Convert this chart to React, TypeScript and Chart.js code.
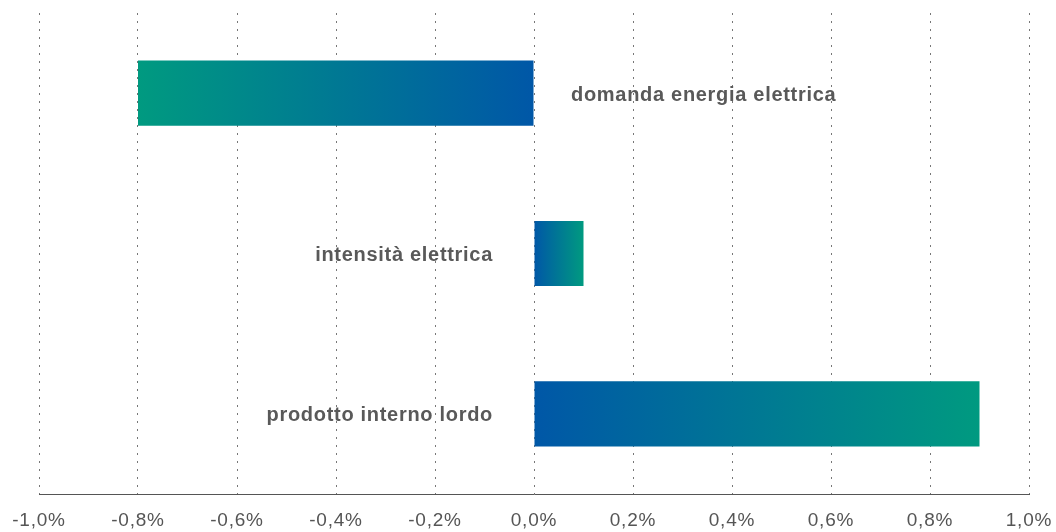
import React, { useEffect, useRef } from "react";
import { Chart, registerables } from "chart.js";

Chart.register(...registerables);

const categories = ["domanda energia elettrica", "intensità elettrica", "prodotto interno lordo"];
const values = [-0.8, 0.1, 0.9];
const tickValues = [-1.0, -0.8, -0.6, -0.4, -0.2, 0.0, 0.2, 0.4, 0.6, 0.8, 1.0];

const BLUE = "#0057a7";
const GREEN = "#009a80";
const FONT = "'Liberation Sans', Arial, sans-serif";

const spacingPlugin = {
  id: "spacing",
  beforeDraw(chart: any) {
    (chart.ctx as any).letterSpacing = "0.8px";
  },
};

const labelPlugin = {
  id: "barLabels",
  afterDatasetsDraw(chart: any) {
    const { ctx } = chart;
    const x = chart.scales.x;
    const y = chart.scales.y;
    const zero = x.getPixelForValue(0);
    ctx.save();
    (ctx as any).letterSpacing = "0.7px";
    ctx.font = "bold 20px " + FONT;
    ctx.fillStyle = "#595959";
    ctx.textBaseline = "middle";
    categories.forEach((c, i) => {
      const yy = y.getPixelForValue(i);
      if (values[i] < 0) {
        ctx.textAlign = "left";
        ctx.fillText(c, zero + 37, yy + 2);
      } else {
        ctx.textAlign = "right";
        ctx.fillText(c, zero - 41, yy + 2);
      }
    });
    ctx.restore();
  },
};

export default function App() {
  const ref = useRef<HTMLCanvasElement>(null);
  useEffect(() => {
    document.body.style.margin = "0";
    const chart = new Chart(ref.current!, {
      type: "bar",
      data: {
        labels: categories,
        datasets: [
          {
            data: values,
            backgroundColor: (c: any) => {
              const chart = c.chart;
              const sx = chart.scales?.x;
              if (!sx || c.raw === undefined) return BLUE;
              const x0 = sx.getPixelForValue(0);
              const x1 = sx.getPixelForValue(c.raw);
              if (!isFinite(x0) || !isFinite(x1) || Math.abs(x1 - x0) < 1) return BLUE;
              const g = chart.ctx.createLinearGradient(x0, 0, x1, 0);
              g.addColorStop(0, BLUE);
              g.addColorStop(1, GREEN);
              return g;
            },
            borderWidth: 0,
            barPercentage: 0.406,
            categoryPercentage: 1,
          },
        ],
      },
      plugins: [spacingPlugin, labelPlugin],
      options: {
        indexAxis: "y",
        animation: false,
        responsive: false,
        maintainAspectRatio: false,
        layout: { padding: { left: 39, right: 27, top: 13, bottom: 0 } },
        plugins: { legend: { display: false }, tooltip: { enabled: false } },
        scales: {
          x: {
            min: -1,
            max: 1,
            afterBuildTicks: (s: any) => {
              s.ticks = tickValues.map((v) => ({ value: v }));
            },
            afterFit: (s: any) => {
              s.height = 38;
              s.paddingLeft = 0;
              s.paddingRight = 0;
            },
            ticks: {
              color: "#555555",
              font: { size: 19, family: FONT },
              padding: 15,
              maxRotation: 0,
              callback: (v: any) => Number(v).toFixed(1).replace(".", ",") + "%",
            },
            grid: {
              color: "#777777",
              lineWidth: 1,
              drawTicks: false,
              tickLength: 0,
            },
            border: { display: true, color: "#555555", width: 1, dash: [2, 6] },
          },
          y: {
            display: false,
            grid: { display: false },
          },
        },
      },
    });
    return () => chart.destroy();
  }, []);
  return <canvas ref={ref} width={1056} height={532} style={{ display: "block" }} />;
}
